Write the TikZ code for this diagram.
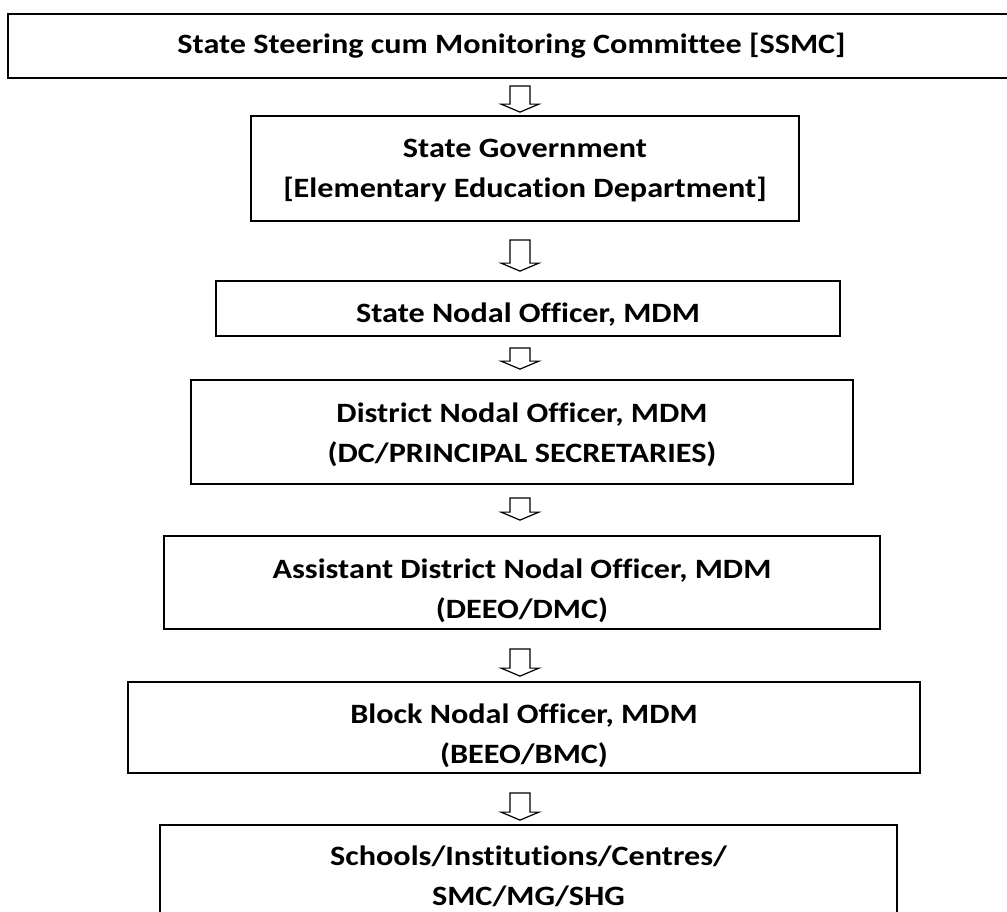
\documentclass[tikz,border=0pt]{standalone}
\usepackage{fontspec}
\setmainfont{Carlito}[FakeStretch=1.15,Ligatures=NoCommon]
\usetikzlibrary{calc}
\begin{document}
\begin{tikzpicture}[x=1pt,y=-1pt,
    level/.style={draw,line width=1.8pt,align=center,inner sep=0pt,
      font=\bfseries\fontsize{28}{40}\selectfont},
    hollow/.style={draw,line width=1.2pt,fill=white,line join=miter}]
                \useasboundingbox (0,0) rectangle (1007,911);
                \clip (0,0) rectangle (1007,911);
                \node[level,minimum width=1007pt,minimum height=64pt] (ssmc) at (511.5,46)
                    {State Steering cum Monitoring Committee [SSMC]};
                \node[level,minimum width=548pt,minimum height=105pt,text height=58pt,text depth=0pt] (govt) at (525,168.5)
                    {State Government\\ {[Elementary Education Department]}};
                \node[level,minimum width=624pt,minimum height=55pt,text height=28pt,text depth=0pt] (sno) at (528,308.5)
                    {State Nodal Officer, MDM};
                \node[level,minimum width=662pt,minimum height=104pt,text height=61pt,text depth=0pt] (dno) at (522,432)
                    {District Nodal Officer, MDM\\ (DC/PRINCIPAL SECRETARIES)};
                \node[level,minimum width=716pt,minimum height=93pt,text height=71pt,text depth=0pt] (adno) at (522,582.5)
                    {Assistant District Nodal Officer, MDM\\ (DEEO/DMC)};
                \node[level,minimum width=792pt,minimum height=91pt,text height=72pt,text depth=0pt] (bno) at (524,727.5)
                    {Block Nodal Officer, MDM\\ (BEEO/BMC)};
                \node[level,minimum width=737pt,minimum height=103pt] (inst) at (528.5,876.5)
                    {Schools/Institutions/Centres/\\ SMC/MG/SHG};
                \coordinate (spine) at (520,0);
                % hollow block arrows between the levels
                \foreach \a/\b/\s/\e in {ssmc/govt/7/3, govt/sno/18/9, sno/dno/11/10,
                    dno/adno/13/15, adno/bno/19/5, bno/inst/19/4} {
                    \draw[hollow] let \p1=(\a.south), \p2=(\b.north), \p3=(spine) in
                        (\x3-10pt,\y1-\s pt) -- (\x3+10pt,\y1-\s pt)
                        -- (\x3+10pt,\y2+\e pt+8pt) -- (\x3+19pt,\y2+\e pt+8pt)
                        -- (\x3,\y2+\e pt) -- (\x3-19pt,\y2+\e pt+8pt)
                        -- (\x3-10pt,\y2+\e pt+8pt) -- cycle;
                }
            \end{tikzpicture}
\end{document}
